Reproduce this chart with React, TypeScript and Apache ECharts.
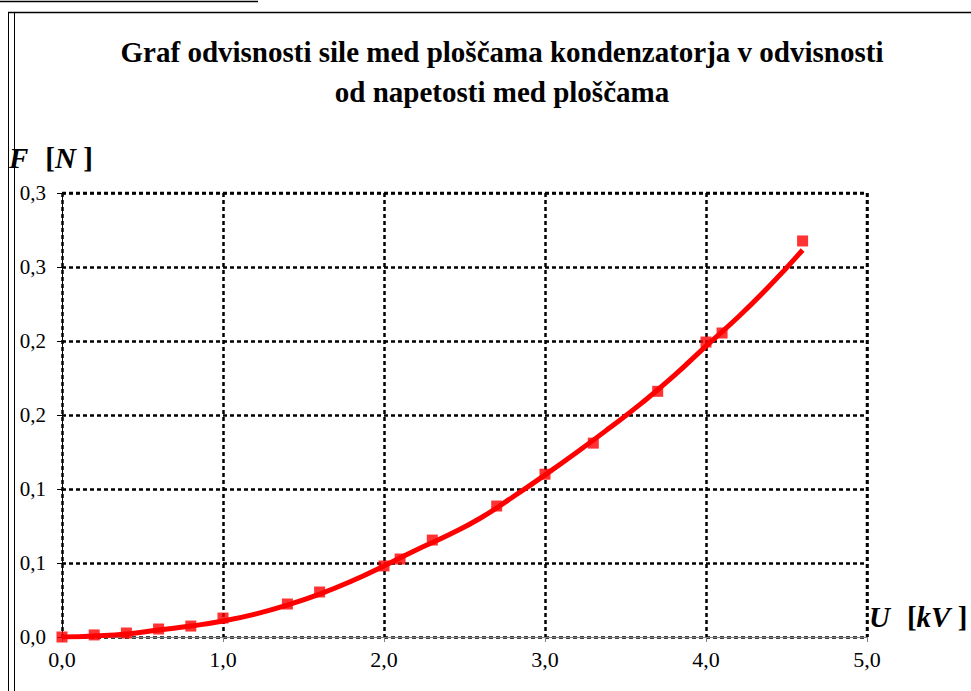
import React, { useEffect, useRef } from "react";
import * as echarts from "echarts";

const titleLines = [
  "Graf odvisnosti sile med ploščama kondenzatorja v odvisnosti",
  "od napetosti med ploščama",
];
const yTickLabels = ["0,0", "0,1", "0,1", "0,2", "0,2", "0,3", "0,3"];
const xTickLabels = ["0,0", "1,0", "2,0", "3,0", "4,0", "5,0"];

// measured points (U [kV], F [N])
const measuredU = [0, 0.2, 0.4, 0.6, 0.8, 1.0, 1.4, 1.6, 2.0, 2.1, 2.3, 2.7, 3.0, 3.3, 3.7, 4.0, 4.1, 4.6];
const measuredF = [0, 0.0014, 0.0027, 0.0054, 0.0074, 0.0128, 0.0223, 0.0304, 0.048, 0.0527, 0.0655, 0.0885, 0.11, 0.131, 0.166, 0.1993, 0.2054, 0.2676];

// trend curve
const curveU = [0, 0.2, 0.4, 0.6, 0.8, 1.0, 1.2, 1.4, 1.6, 1.8, 2.0, 2.2, 2.4, 2.6, 2.8, 3.0, 3.2, 3.4, 3.6, 3.8, 4.0, 4.2, 4.4, 4.6];
const curveF = [0, 0.0007, 0.002, 0.0047, 0.0074, 0.0108, 0.0155, 0.0216, 0.029, 0.0378, 0.048, 0.0588, 0.0689, 0.0804, 0.0946, 0.1095, 0.125, 0.1412, 0.158, 0.1764, 0.1966, 0.2162, 0.2378, 0.2615];

const SERIF = "'Liberation Serif', 'Times New Roman', serif";

export default function App() {
  const ref = useRef<HTMLDivElement>(null);
  useEffect(() => {
    if (!ref.current) return;
    const chart = echarts.init(ref.current, null, { renderer: "svg" });
    const gridLine = { show: true, lineStyle: { color: "#000", width: 2.5, type: [4, 3] as any } };
    const unitRich = {
      i: { font: `italic bold 29px ${SERIF}`, fill: "#000" },
      b: { font: `bold 29px ${SERIF}`, fill: "#000" },
      s: { width: 17 },
    };
    chart.setOption({
      animation: false,
      backgroundColor: "#fff",
      grid: { left: 62, right: 104, top: 193, bottom: 54, containLabel: false },
      xAxis: {
        type: "value",
        min: 0,
        max: 5,
        interval: 1,
        axisLine: { show: true, onZero: false, lineStyle: { color: "#808080", width: 1 } },
        axisTick: { show: true, length: 5, lineStyle: { color: "#808080" } },
        axisLabel: {
          margin: 11,
          color: "#000",
          fontFamily: SERIF,
          fontSize: 22,
          formatter: (v: number) => xTickLabels[Math.round(v)] ?? "",
        },
        splitLine: gridLine,
      },
      yAxis: {
        type: "value",
        min: 0,
        max: 0.3,
        interval: 0.05,
        axisLine: { show: true, onZero: false, lineStyle: { color: "#000", width: 1 } },
        axisTick: { show: true, length: 5, lineStyle: { color: "#000" } },
        axisLabel: {
          margin: 16,
          color: "#000",
          fontFamily: SERIF,
          fontSize: 21,
          formatter: (v: number) => yTickLabels[Math.round(v / 0.05)] ?? "",
        },
        splitLine: gridLine,
      },
      graphic: [
        { type: "line", shape: { x1: 0, y1: 1.5, x2: 258, y2: 1.5 }, style: { stroke: "#000", lineWidth: 1.5 } },
        { type: "line", shape: { x1: 8, y1: 12.5, x2: 971, y2: 12.5 }, style: { stroke: "#000", lineWidth: 1.5 } },
        { type: "line", shape: { x1: 8.5, y1: 12, x2: 8.5, y2: 691 }, style: { stroke: "#000", lineWidth: 1 } },
        { type: "line", shape: { x1: 14.5, y1: 12, x2: 14.5, y2: 691 }, style: { stroke: "#000", lineWidth: 1 } },
        {
          type: "line",
          shape: { x1: 867, y1: 193, x2: 867, y2: 637 },
          style: { stroke: "#000", lineWidth: 2.5, lineDash: [4, 3] },
        },
        {
          type: "line",
          shape: { x1: 62, y1: 193, x2: 867, y2: 193 },
          style: { stroke: "#000", lineWidth: 2.5, lineDash: [4, 3] },
        },
        {
          type: "text",
          x: 502,
          y: 52,
          style: { text: titleLines[0], fill: "#000", font: `bold 29px ${SERIF}`, align: "center", verticalAlign: "middle" },
        },
        {
          type: "text",
          x: 502,
          y: 92,
          style: { text: titleLines[1], fill: "#000", font: `bold 29px ${SERIF}`, align: "center", verticalAlign: "middle" },
        },
        {
          type: "text",
          x: 9,
          y: 158,
          style: {
            text: "{i|F}{s|}{b|[}{i|N}{b| ]}",
            fill: "#000",
            verticalAlign: "middle",
            rich: unitRich,
          } as any,
        },
        {
          type: "text",
          x: 869,
          y: 617,
          style: {
            text: "{i|U}{s|}{b|[}{i|kV}{b| ]}",
            fill: "#000",
            verticalAlign: "middle",
            rich: unitRich,
          } as any,
        },
      ],
      series: [
        {
          type: "line",
          data: curveU.map((u, i) => [u, curveF[i]]),
          smooth: true,
          showSymbol: false,
          lineStyle: { color: "#ff0000", width: 5 },
          z: 2,
        },
        {
          type: "scatter",
          data: measuredU.map((u, i) => [u, measuredF[i]]),
          symbol: "rect",
          symbolSize: 11,
          itemStyle: { color: "#ff0000" },
          z: 3,
        },
      ],
    });
    return () => chart.dispose();
  }, []);
  return (
    <div
      ref={ref}
      style={{ position: "fixed", left: 0, top: 0, width: 971, height: 691, background: "#fff" }}
    />
  );
}
